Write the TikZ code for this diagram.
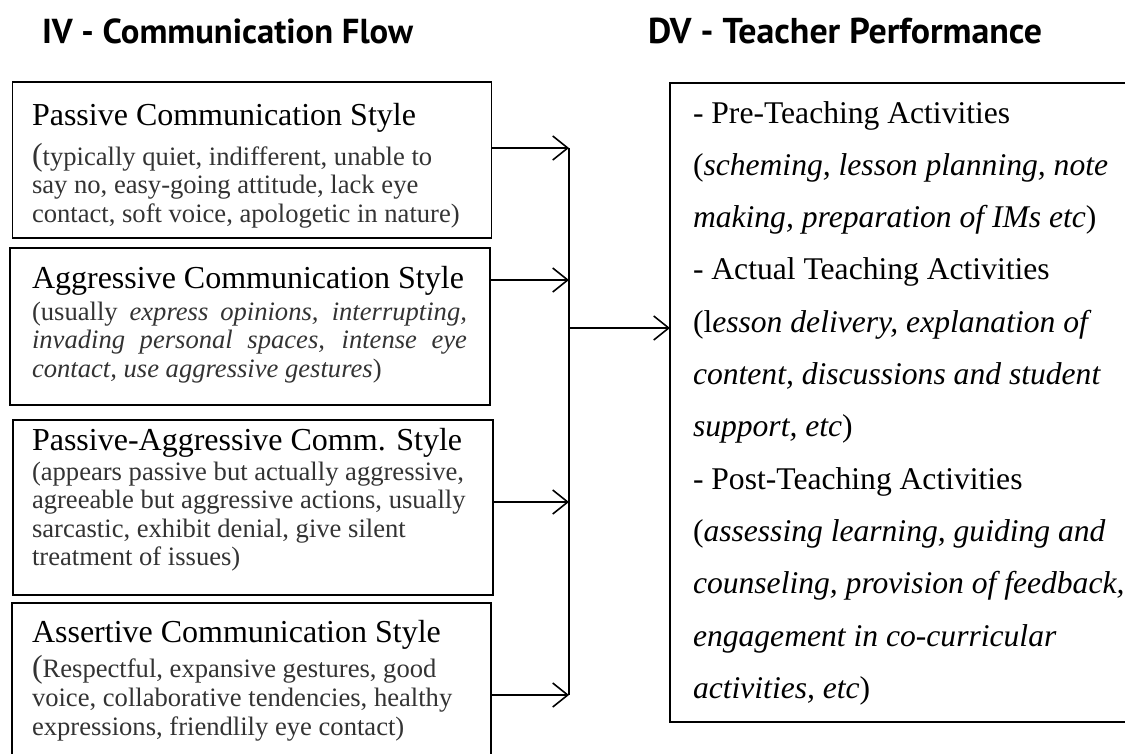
\documentclass[tikz,border=0pt]{standalone}
\usepackage{fontspec}
\usepackage{graphicx}
\setmainfont{Liberation Serif}
\newfontfamily\titlefont{PT Sans}
\usetikzlibrary{arrows.meta}
\definecolor{subgray}{HTML}{333333}

\tikzset{
  stylebox/.style={draw=black, line width=1.6pt, rectangle, inner sep=0pt, outer sep=0pt, anchor=north west},
  headtext/.style={anchor=base west, inner sep=0pt, outer sep=0pt, font=\fontsize{32}{32}\selectfont},
  subtext/.style={anchor=base west, inner sep=0pt, outer sep=0pt, text=subgray, font=\fontsize{26.6}{26.6}\selectfont},
  dvtext/.style={anchor=base west, inner sep=0pt, outer sep=0pt, font=\fontsize{31.6}{31.6}\selectfont},
  titletext/.style={anchor=base west, inner sep=0pt, outer sep=0pt, font=\titlefont\bfseries\fontsize{33}{33}\selectfont},
  busline/.style={line width=1.6pt},
  flow/.style={line width=1.6pt, -{Straight Barb[length=15pt,width=24pt,line width=1.6pt]}},
}
\newcommand{\bigparen}{{\fontsize{32}{32}\selectfont(}}

\begin{document}
\begin{tikzpicture}[x=1pt,y=-1pt]
\useasboundingbox (0,0) rectangle (1125,753);
\clip (0,0) rectangle (1125,753);

% column titles
\node[titletext] (ivtitle) at (42,43) {\resizebox{371pt}{!}{IV - Communication Flow}};
\node[titletext] (dvtitle) at (648,43) {\resizebox{394pt}{!}{DV - Teacher Performance}};

% independent-variable boxes
\node[stylebox, minimum width=479pt, minimum height=156pt] (p1) at (12.5,82) {};
\node[stylebox, minimum width=480pt, minimum height=157pt] (p2) at (10,248) {};
\node[stylebox, minimum width=480pt, minimum height=175pt] (p3) at (13,420) {};
\node[stylebox, minimum width=479pt, minimum height=180pt] (p4) at (12,603) {};

% passive
\node[headtext] (p1h) at (32,125) {Passive Communication Style};
\node[subtext] (p1a) at (32,165) {\bigparen typically quiet, indifferent, unable to};
\node[subtext] (p1b) at (32,193.5) {say no, easy-going attitude, lack eye};
\node[subtext] (p1c) at (32,222) {contact, soft voice, apologetic in nature)};

% aggressive
\node[headtext] (p2h) at (32,288) {Aggressive Communication Style};
\node[subtext] (p2a) at (32,320) {\makebox[435pt][s]{(usually \textit{express opinions, interrupting,}}};
\node[subtext] (p2b) at (32,348.5) {\makebox[435pt][s]{\textit{invading personal spaces, intense eye}}};
\node[subtext] (p2c) at (32,377) {\textit{contact, use aggressive gestures})};

% passive-aggressive
\node[headtext] (p3h) at (32,450) {Passive-Aggressive Comm. Style};
\node[subtext] (p3a) at (32,480) {(appears passive but actually aggressive,};
\node[subtext] (p3b) at (32,508.5) {agreeable but aggressive actions, usually};
\node[subtext] (p3c) at (32,537) {sarcastic, exhibit denial, give silent};
\node[subtext] (p3d) at (32,565.5) {treatment of issues)};

% assertive
\node[headtext] (p4h) at (32,642) {Assertive Communication Style};
\node[subtext] (p4a) at (32,677) {\bigparen Respectful, expansive gestures, good};
\node[subtext] (p4b) at (32,706) {voice, collaborative tendencies, healthy};
\node[subtext] (p4c) at (32,735) {expressions, friendlily eye contact)};

% dependent-variable box
\node[stylebox, minimum width=480pt, minimum height=639pt] (dv) at (670,83) {};
\node[dvtext] (d1)  at (693,123.0) {- Pre-Teaching Activities};
\node[dvtext] (d2)  at (693,175.3) {(\textit{scheming, lesson planning, note}};
\node[dvtext] (d3)  at (693,227.6) {\textit{making, preparation of IMs etc})};
\node[dvtext] (d4)  at (693,279.9) {- Actual Teaching Activities};
\node[dvtext] (d5)  at (693,332.2) {(l\textit{esson delivery, explanation of}};
\node[dvtext] (d6)  at (693,384.5) {\textit{content, discussions and student}};
\node[dvtext] (d7)  at (693,436.8) {\textit{support, etc})};
\node[dvtext] (d8)  at (693,489.1) {- Post-Teaching Activities};
\node[dvtext] (d9)  at (693,541.4) {(\textit{assessing learning, guiding and}};
\node[dvtext] (d10) at (693,593.7) {\textit{counseling, provision of feedback,}};
\node[dvtext] (d11) at (693,646.0) {\textit{engagement in co-curricular}};
\node[dvtext] (d12) at (693,698.3) {\textit{activities, etc})};

% collecting bus and arrows
\coordinate (j1) at (569,148);
\coordinate (j2) at (569,280);
\coordinate (j3) at (569,502);
\coordinate (j4) at (569,695);
\coordinate (jo) at (569,328);

\draw[busline] (j1) -- (j4);
\draw[flow] (p1.east |- j1) -- (j1);
\draw[flow] (p2.east |- j2) -- (j2);
\draw[flow] (p3.east |- j3) -- (j3);
\draw[flow] (p4.east |- j4) -- (j4);
\draw[flow] (jo) -- (dv.west |- jo);
\end{tikzpicture}
\end{document}
